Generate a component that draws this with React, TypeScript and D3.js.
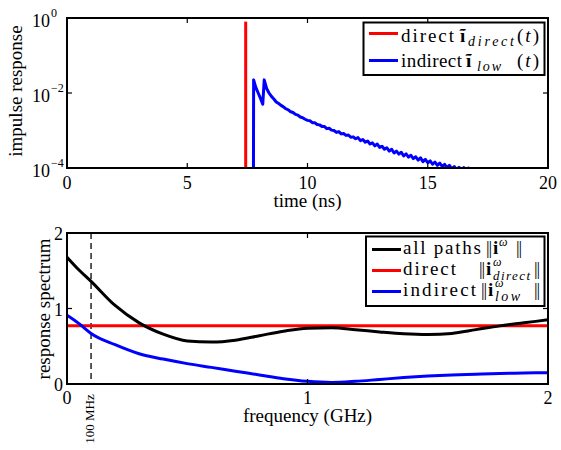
import React from 'react';
import * as d3 from 'd3';

// ---------- top panel data ----------
const timeTicks = [0, 5, 10, 15, 20];
const logTickExps = [0, -2, -4];
const directTime = [7.43, 7.43];
const directImpulse = [1e-6, 0.8];

const indirectTime = [
  7.75, 7.76, 7.85, 7.95, 8.05, 8.14, 8.2,
  8.3, 8.4, 8.5, 8.6, 8.7, 8.8, 8.9, 9.0, 9.1, 9.2, 9.3, 9.4, 9.5, 9.6, 9.7, 9.8, 9.9,
  10.0, 10.1, 10.2, 10.3, 10.4, 10.5, 10.6, 10.7, 10.8, 10.9,
  11.0, 11.1, 11.2, 11.3, 11.4, 11.5, 11.6, 11.7, 11.8, 11.9,
  12.0, 12.1, 12.2, 12.3, 12.4, 12.5, 12.6, 12.7, 12.8, 12.9,
  13.0, 13.1, 13.2, 13.3, 13.4, 13.5, 13.6, 13.7, 13.8, 13.9,
  14.0, 14.1, 14.2, 14.3, 14.4, 14.5, 14.6, 14.7, 14.8, 14.9,
  15.0, 15.1, 15.2, 15.3, 15.4, 15.5, 15.6, 15.7, 15.8, 15.9,
  16.0, 16.1, 16.2, 16.3, 16.4, 16.5, 16.6, 16.7, 16.75,
];
const indirectLog10 = [
  -5.0, -1.65, -1.85, -2.0, -2.15, -2.3, -1.65,
  -1.88, -2.0, -2.09, -2.16, -2.24, -2.28, -2.33, -2.37, -2.42, -2.45, -2.5, -2.52, -2.57, -2.59, -2.64, -2.66, -2.7,
  -2.73, -2.74, -2.79, -2.79, -2.84, -2.85, -2.89, -2.89, -2.95, -2.94,
  -2.99, -3.0, -3.05, -3.03, -3.09, -3.08, -3.13, -3.12, -3.18, -3.17,
  -3.22, -3.19, -3.27, -3.24, -3.31, -3.28, -3.36, -3.33, -3.41, -3.36,
  -3.45, -3.42, -3.5, -3.46, -3.55, -3.5, -3.6, -3.55, -3.63, -3.58,
  -3.68, -3.62, -3.71, -3.66, -3.75, -3.7, -3.79, -3.73, -3.83, -3.77,
  -3.86, -3.81, -3.9, -3.84, -3.93, -3.87, -3.96, -3.9, -3.99, -3.93,
  -4.02, -3.96, -4.04, -3.98, -4.06, -3.99, -4.05, -4.0, -4.3,
];

// ---------- bottom panel data ----------
const freqTicks = [0, 1, 2];
const spectrumTicks = [0, 1, 2];
const markerFreq = 0.1;
const freqs = [0, 0.05, 0.1, 0.2, 0.3, 0.4, 0.5, 0.6, 0.7, 0.8, 0.9, 1.0, 1.1, 1.2, 1.3, 1.4, 1.5, 1.6, 1.7, 1.8, 1.9, 2.0];
const allPaths = [1.68, 1.51, 1.36, 1.04, 0.81, 0.66, 0.57, 0.555, 0.58, 0.64, 0.7, 0.74, 0.745, 0.72, 0.69, 0.665, 0.655, 0.67, 0.72, 0.77, 0.81, 0.85];
const directSpec = [0.77, 0.77, 0.77, 0.77, 0.77, 0.77, 0.77, 0.77, 0.77, 0.77, 0.77, 0.77, 0.77, 0.77, 0.77, 0.77, 0.77, 0.77, 0.77, 0.77, 0.77, 0.77];
const indirectSpec = [0.91, 0.8, 0.67, 0.52, 0.4, 0.33, 0.27, 0.22, 0.17, 0.12, 0.07, 0.035, 0.02, 0.035, 0.06, 0.085, 0.105, 0.12, 0.13, 0.14, 0.145, 0.15];

const FONT = "'Liberation Serif', 'DejaVu Serif', serif";
const X0 = 67, X1 = 548;
const T0 = 18, T1 = 168;
const B0 = 233, B1 = 384;
const SP = 'spacing';

function Norm({ x, y }: { x: number; y: number }) {
  return <tspan x={x} y={y} fontSize={18} letterSpacing={-1.2}>||</tspan>;
}

export default function App() {
  const xT = d3.scaleLinear().domain([0, 20]).range([X0, X1]);
  const yT = d3.scaleLog().domain([1e-4, 1]).range([T1, T0]);
  const xF = d3.scaleLinear().domain([0, 2]).range([X0, X1]);
  const yF = d3.scaleLinear().domain([0, 2]).range([B1, B0]);

  const lineT = d3.line<[number, number]>().x(d => xT(d[0])).y(d => yT(d[1]));
  const directPath = lineT(directTime.map((t, i) => [t, directImpulse[i]]));
  const indirectPath = lineT(indirectTime.map((t, i) => [t, Math.pow(10, indirectLog10[i])]));

  const lineF = d3.line<[number, number]>().x(d => xF(d[0])).y(d => yF(d[1])).curve(d3.curveMonotoneX);
  const allPath = lineF(freqs.map((f, i) => [f, allPaths[i]]));
  const dirPath = lineF(freqs.map((f, i) => [f, directSpec[i]]));
  const indPath = lineF(freqs.map((f, i) => [f, indirectSpec[i]]));

  const tick = 5;
  const ts: React.CSSProperties = { fontFamily: FONT };
  return (
    <svg width={561} height={450} style={{ position: 'absolute', left: 0, top: 0, background: '#fff', fontFamily: FONT }}>
      <defs>
        <clipPath id="clipT"><rect x={X0} y={T0} width={X1 - X0} height={T1 - T0} /></clipPath>
        <clipPath id="clipB"><rect x={X0} y={B0} width={X1 - X0} height={B1 - B0} /></clipPath>
      </defs>
      <rect x={0} y={0} width={561} height={450} fill="#fff" />

      {/* ===== TOP PANEL ===== */}
      <g clipPath="url(#clipT)">
        <path d={directPath || ''} fill="none" stroke="#ff0000" strokeWidth={3} />
        <path d={indirectPath || ''} fill="none" stroke="#0000ff" strokeWidth={3} strokeLinejoin="round" />
      </g>
      {timeTicks.map(t => (
        <g key={'tt' + t}>
          <line x1={xT(t)} x2={xT(t)} y1={T1} y2={T1 - tick} stroke="#000" strokeWidth={1.2} />
          <line x1={xT(t)} x2={xT(t)} y1={T0} y2={T0 + tick} stroke="#000" strokeWidth={1.2} />
          <text style={ts} x={xT(t)} y={T1 + 21} fontSize={18} textAnchor="middle">{t}</text>
        </g>
      ))}
      {logTickExps.map(e => {
        const y = yT(Math.pow(10, e));
        return (
          <g key={'ly' + e}>
            <line x1={X0} x2={X0 + tick} y1={y} y2={y} stroke="#000" strokeWidth={1.2} />
            <line x1={X1} x2={X1 - tick} y1={y} y2={y} stroke="#000" strokeWidth={1.2} />
            <text style={ts} x={50} y={y + 9} fontSize={18} textAnchor="end">10</text>
            <text style={ts} x={51} y={y - 1} fontSize={12} textAnchor="start">{e === 0 ? '0' : '\u2212' + Math.abs(e)}</text>
          </g>
        );
      })}
      <rect x={X0} y={T0} width={X1 - X0} height={T1 - T0} fill="none" stroke="#000" strokeWidth={2} />
      <text style={ts} x={(X0 + X1) / 2} y={207} fontSize={19} textAnchor="middle">time (ns)</text>
      <text style={ts} transform={`translate(22, ${91}) rotate(-90)`} fontSize={19} textAnchor="middle">impulse response</text>

      {/* top legend */}
      <rect x={363.5} y={22.5} width={181} height={52.5} fill="#fff" stroke="#000" strokeWidth={2} />
      <line x1={369} x2={398} y1={33.5} y2={33.5} stroke="#ff0000" strokeWidth={3} />
      <line x1={369} x2={398} y1={60.5} y2={60.5} stroke="#0000ff" strokeWidth={3} />
      <text style={ts} fontSize={19}>
        <tspan x={401} y={42} textLength={53} lengthAdjust={SP}>direct</tspan>
        <tspan x={460} y={42} fontWeight="bold">{'\u0129'}</tspan>
        <tspan x={468} y={46} fontSize={14} fontStyle="italic" textLength={46} lengthAdjust={SP}>direct</tspan>
        <tspan x={517} y={42} textLength={22} lengthAdjust={SP}>(<tspan fontStyle="italic">t</tspan>)</tspan>
      </text>
      <text style={ts} fontSize={19}>
        <tspan x={401} y={67} textLength={61} lengthAdjust={SP}>indirect</tspan>
        <tspan x={466} y={67} fontWeight="bold">{'\u0129'}</tspan>
        <tspan x={477} y={71} fontSize={14} fontStyle="italic" textLength={24} lengthAdjust={SP}>low</tspan>
        <tspan x={517} y={67} textLength={22} lengthAdjust={SP}>(<tspan fontStyle="italic">t</tspan>)</tspan>
      </text>

      {/* ===== BOTTOM PANEL ===== */}
      <line x1={xF(markerFreq)} x2={xF(markerFreq)} y1={B0} y2={B1} stroke="#000" strokeWidth={1.3} strokeDasharray="6,4" />
      <g clipPath="url(#clipB)">
        <path d={dirPath || ''} fill="none" stroke="#ff0000" strokeWidth={3} />
        <path d={allPath || ''} fill="none" stroke="#000" strokeWidth={3} />
        <path d={indPath || ''} fill="none" stroke="#0000ff" strokeWidth={3} />
      </g>
      {freqTicks.map(f => (
        <g key={'ft' + f}>
          <line x1={xF(f)} x2={xF(f)} y1={B1} y2={B1 - tick} stroke="#000" strokeWidth={1.2} />
          <line x1={xF(f)} x2={xF(f)} y1={B0} y2={B0 + tick} stroke="#000" strokeWidth={1.2} />
          <text style={ts} x={xF(f)} y={B1 + 20} fontSize={18} textAnchor="middle">{f}</text>
        </g>
      ))}
      {spectrumTicks.map(v => (
        <g key={'st' + v}>
          <line x1={X0} x2={X0 + tick} y1={yF(v)} y2={yF(v)} stroke="#000" strokeWidth={1.2} />
          <line x1={X1} x2={X1 - tick} y1={yF(v)} y2={yF(v)} stroke="#000" strokeWidth={1.2} />
          <text style={ts} x={63} y={yF(v) + 7} fontSize={18} textAnchor="end">{v}</text>
        </g>
      ))}
      <rect x={X0} y={B0} width={X1 - X0} height={B1 - B0} fill="none" stroke="#000" strokeWidth={2} />
      <text style={ts} transform={`translate(${xF(markerFreq) + 3}, 419) rotate(-90)`} fontSize={13} textAnchor="middle">100 MHz</text>
      <text style={ts} x={(X0 + X1) / 2} y={422} fontSize={19} textAnchor="middle">frequency (GHz)</text>
      <text style={ts} transform={`translate(50, 309) rotate(-90)`} fontSize={19} textAnchor="middle">response spectrum</text>

      {/* bottom legend */}
      <rect x={366} y={236.5} width={178.5} height={69.5} fill="#fff" stroke="#000" strokeWidth={2} />
      <line x1={372} x2={401} y1={249.5} y2={249.5} stroke="#000" strokeWidth={3} />
      <line x1={372} x2={401} y1={270.5} y2={270.5} stroke="#ff0000" strokeWidth={3} />
      <line x1={372} x2={401} y1={291.5} y2={291.5} stroke="#0000ff" strokeWidth={3} />
      <text style={ts} fontSize={19}>
        <tspan x={403} y={254} textLength={78} lengthAdjust={SP}>all paths</tspan>
        <Norm x={486} y={254} />
        <tspan x={493} y={254} fontWeight="bold">i</tspan>
        <tspan x={499} y={246} fontSize={12} fontStyle="italic">{'\u03c9'}</tspan>
        <Norm x={516} y={254} />
      </text>
      <text style={ts} fontSize={19}>
        <tspan x={403} y={275} textLength={53} lengthAdjust={SP}>direct</tspan>
        <Norm x={479} y={275} />
        <tspan x={486} y={275} fontWeight="bold">i</tspan>
        <tspan x={493} y={266} fontSize={12} fontStyle="italic">{'\u03c9'}</tspan>
        <tspan x={493} y={280} fontSize={13} fontStyle="italic" textLength={37} lengthAdjust={SP}>direct</tspan>
        <Norm x={534} y={275} />
      </text>
      <text style={ts} fontSize={19}>
        <tspan x={403} y={296} textLength={73} lengthAdjust={SP}>indirect</tspan>
        <Norm x={481} y={296} />
        <tspan x={488} y={296} fontWeight="bold">i</tspan>
        <tspan x={495} y={287} fontSize={12} fontStyle="italic">{'\u03c9'}</tspan>
        <tspan x={495} y={301} fontSize={14} fontStyle="italic" textLength={25} lengthAdjust={SP}>low</tspan>
        <Norm x={534} y={296} />
      </text>
    </svg>
  );
}
